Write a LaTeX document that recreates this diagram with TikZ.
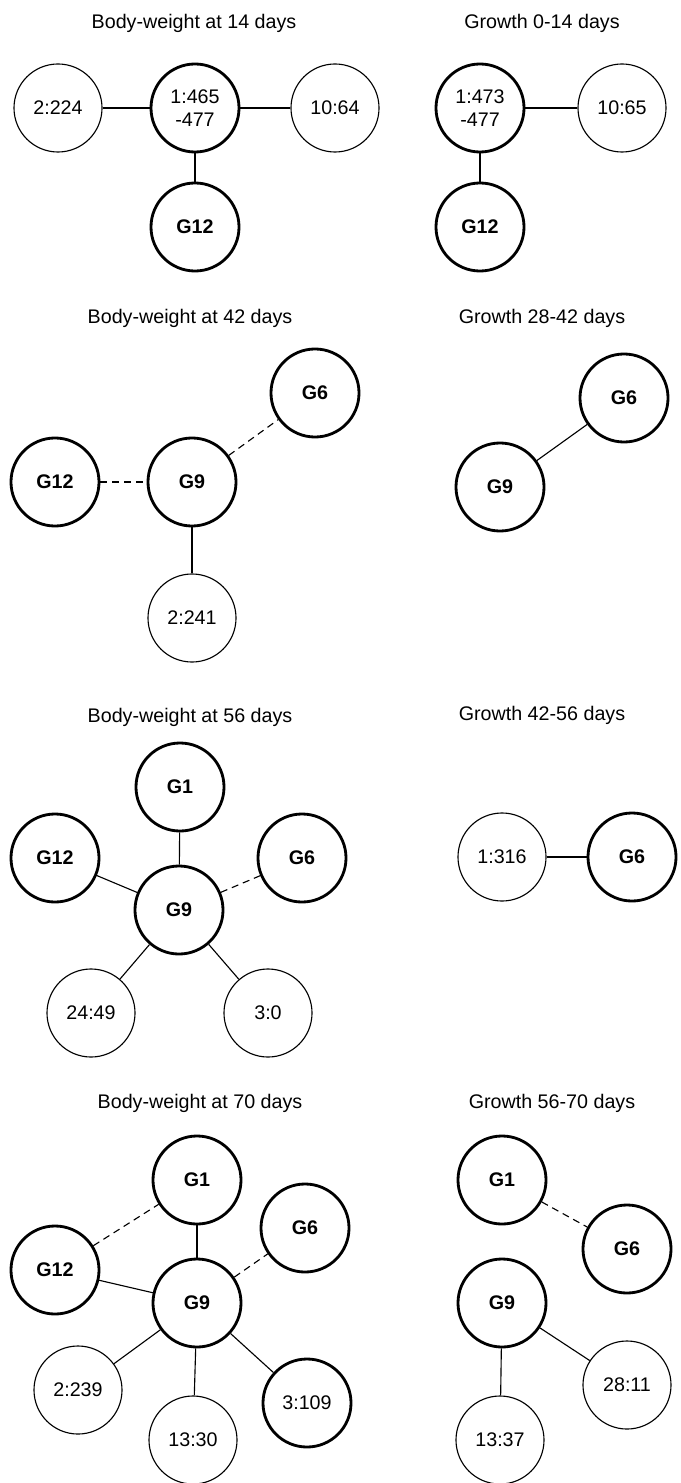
\documentclass[tikz,border=0pt]{standalone}
\usepackage{fontspec}
\setmainfont{Liberation Sans}
\tikzset{
    locus/.style={circle,draw,line width=0.8pt,minimum size=2.2cm,inner sep=0pt,align=center,font=\fontsize{14}{16}\selectfont},
    hub/.style={locus,line width=2pt},
    grp/.style={hub,font=\fontsize{14}{16}\selectfont\bfseries},
    title/.style={font=\fontsize{14}{16}\selectfont},
    link/.style={line width=0.8pt},
    weak/.style={link,dash pattern=on 5pt off 3.5pt}
}

\begin{document}
\begin{tikzpicture}[x=0.025cm,y=-0.025cm]
    \useasboundingbox (0,0) rectangle (680,1483);

    \node[title] (tbw14) at (194,23) {Body-weight at 14 days};
    \node[locus] (bw14l) at (58,108) {2:224};
    \node[hub] (bw14c) at (195,108) {1:465\\-477};
    \node[locus] (bw14r) at (335,108) {10:64};
    \node[grp] (bw14g12) at (195,227) {G12};
    \draw[link] (bw14l) -- (bw14c);
    \draw[link] (bw14c) -- (bw14r);
    \draw[link] (bw14c) -- (bw14g12);

    \node[title] (tg14) at (542,23) {Growth 0-14 days};
    \node[hub] (g14c) at (480,108) {1:473\\-477};
    \node[locus] (g14r) at (622,108) {10:65};
    \node[grp] (g14g12) at (480,227) {G12};
    \draw[link] (g14c) -- (g14r);
    \draw[link] (g14c) -- (g14g12);

    \node[title] (tbw42) at (190,318) {Body-weight at 42 days};
    \node[grp] (bw42g6) at (315,393) {G6};
    \node[grp] (bw42g12) at (55,482) {G12};
    \node[grp] (bw42g9) at (192,482) {G9};
    \node[locus] (bw42q) at (192,618) {2:241};
    \draw[weak] (bw42g12) -- (bw42g9);
    \draw[weak] (bw42g9) -- (bw42g6);
    \draw[link] (bw42g9) -- (bw42q);

    \node[title] (tg42) at (542,318) {Growth 28-42 days};
    \node[grp] (g42g6) at (624,398) {G6};
    \node[grp] (g42g9) at (500,487) {G9};
    \draw[link] (g42g9) -- (g42g6);

    \node[title] (tbw56) at (190,717) {Body-weight at 56 days};
    \node[grp] (bw56g1) at (180,787) {G1};
    \node[grp] (bw56g12) at (55,858) {G12};
    \node[grp] (bw56g6) at (302,858) {G6};
    \node[grp] (bw56g9) at (179,910) {G9};
    \node[locus] (bw56qa) at (91,1013) {24:49};
    \node[locus] (bw56qb) at (268,1013) {3:0};
    \draw[link] (bw56g1) -- (bw56g9);
    \draw[link] (bw56g12) -- (bw56g9);
    \draw[weak] (bw56g9) -- (bw56g6);
    \draw[link] (bw56g9) -- (bw56qa);
    \draw[link] (bw56g9) -- (bw56qb);

    \node[title] (tg56) at (542,715) {Growth 42-56 days};
    \node[locus] (g56q) at (502,857) {1:316};
    \node[grp] (g56g6) at (632,857) {G6};
    \draw[link] (g56q) -- (g56g6);

    \node[title] (tbw70) at (200,1103) {Body-weight at 70 days};
    \node[grp] (bw70g1) at (197,1180) {G1};
    \node[grp] (bw70g6) at (305,1228) {G6};
    \node[grp] (bw70g12) at (55,1270) {G12};
    \node[grp] (bw70g9) at (197,1303) {G9};
    \node[locus] (bw70qa) at (78,1390) {2:239};
    \node[locus] (bw70qb) at (193,1440) {13:30};
    \node[hub] (bw70qc) at (307,1403) {3:109};
    \draw[weak] (bw70g12) -- (bw70g1);
    \draw[link] (bw70g1) -- (bw70g9);
    \draw[link] (bw70g12) -- (bw70g9);
    \draw[weak] (bw70g9) -- (bw70g6);
    \draw[link] (bw70g9) -- (bw70qa);
    \draw[link] (bw70g9) -- (bw70qb);
    \draw[link] (bw70g9) -- (bw70qc);

    \node[title] (tg70) at (552,1103) {Growth 56-70 days};
    \node[grp] (g70g1) at (502,1180) {G1};
    \node[grp] (g70g6) at (627,1249) {G6};
    \node[grp] (g70g9) at (502,1303) {G9};
    \node[locus] (g70qa) at (627,1385) {28:11};
    \node[locus] (g70qb) at (500,1440) {13:37};
    \draw[weak] (g70g1) -- (g70g6);
    \draw[link] (g70g9) -- (g70qa);
    \draw[link] (g70g9) -- (g70qb);
\end{tikzpicture}
\end{document}
